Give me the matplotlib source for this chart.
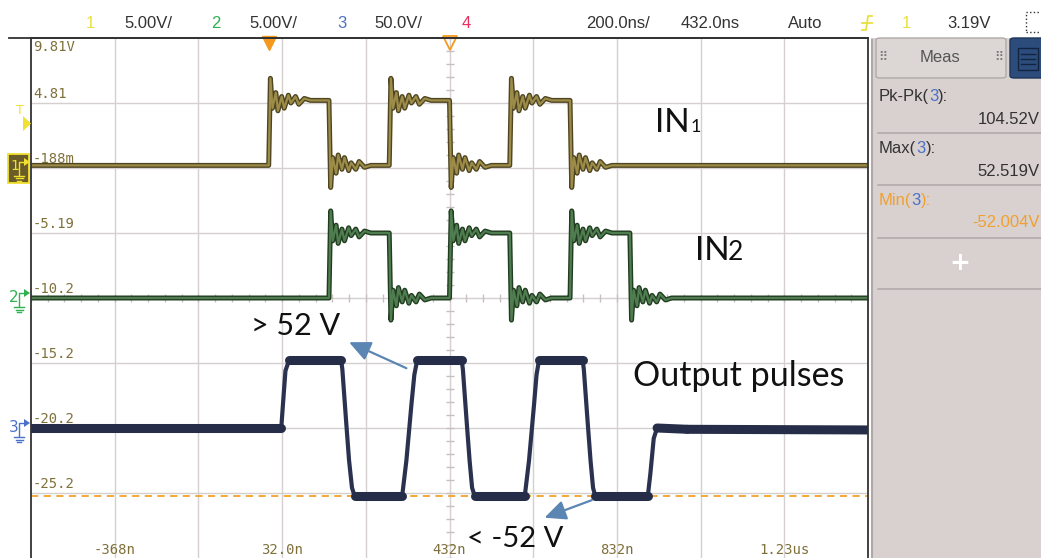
import matplotlib.pyplot as plt
import numpy as np
from matplotlib.patches import Rectangle, FancyBboxPatch, Polygon
from matplotlib.lines import Line2D

# ---- scope settings ----
t_start, t_end = -568, 1432          # 200 ns/div, 10 div, centre 432 ns
t_grid = np.arange(-368, 1433, 200)
t_label_pos = [-368, 32, 432, 832, 1232]
t_labels = ['-368n', '32.0n', '432n', '832n', '1.23us']
v_label_div = [4, 3, 2, 1, 0, -1, -2, -3]
v_labels = ['9.81V', '4.81', '-188m', '-5.19', '-10.2', '-15.2', '-20.2', '-25.2']

# channel 1 (IN1): 5 V/div, ground at +2 div
in1_rise = [0, 288, 576]
in1_fall = [144, 432, 720]
in1_low, in1_high = 0.2, 5.2
# channel 2 (IN2): 5 V/div, ground at 0 div
in2_rise = [144, 432, 720]
in2_fall = [288, 576, 863]
in2_low, in2_high = 0.0, 5.0
# ringing after each input edge (ns after edge, V away from the new level)
ring_dt = [4, 9, 17, 22, 31, 37, 47, 53, 64, 72, 85, 100]
ring_dv = [1.7, -0.6, 0.6, -0.8, 0.3, -0.6, 0.4, -0.2, 0.3, -0.3, 0.15, 0.0]

# channel 3 (output): 50 V/div, ground at -2 div
out_t = [-568, 30, 34, 40, 49, 173, 176, 185, 192, 199, 205, 319, 329, 341, 348, 355,
         461, 464, 473, 480, 486, 492, 612, 622, 634, 640, 646, 750, 753, 762, 769, 775, 780,
         906, 912, 920, 928, 1000, 1432]
out_v = [0, 0, 18, 44, 52.5, 52.5, 45, 5, -25, -46, -52, -52, -25, 18, 41, 52.5,
         52.5, 45, 5, -25, -46, -52, -52, -25, 18, 41, 52.5, 52.5, 45, 5, -25, -46, -52,
         -52, -35, -8, 0, -1, -1.5]
v_min_cursor = -52.0

W, H = 1041, 558


def square(rises, falls, low, high):
    edges = sorted([(t, 1) for t in rises] + [(t, -1) for t in falls])
    ts, vs = [t_start], [low]
    level = low
    for te, s in edges:
        ts.append(te)
        vs.append(level)
        level = high if s > 0 else low
        for dt, dv in zip(ring_dt, ring_dv):
            ts.append(te + dt)
            vs.append(level + s * dv)
    ts.append(t_end)
    vs.append(level)
    return np.array(ts), np.array(vs)


def fx(x):
    return x / W


def fy(y):
    return 1 - y / H


fig = plt.figure(figsize=(W / 100, H / 100), dpi=100)
fig.patch.set_facecolor('white')
ax = fig.add_axes([fx(31), 0, fx(868) - fx(31), fy(38)])
ax.set_xlim(t_start, t_end)
ax.set_ylim(-4, 4)
ax.set_xticks(t_grid)
ax.set_yticks(np.arange(-3, 4))
ax.tick_params(length=0, labelbottom=False, labelleft=False)
ax.grid(True, color='#d6cfcf', lw=1)
for s in ['left', 'top', 'right']:
    ax.spines[s].set_color('#333333')
    ax.spines[s].set_linewidth(1.3)
ax.spines['bottom'].set_visible(False)

# fine ticks on the centre lines
ax.plot(np.full(41, 432), np.linspace(-4, 4, 41), ls='none', marker='_', ms=6, color='#c8c0c0')
ax.plot(np.arange(t_start, t_end + 1, 40), np.zeros(51), ls='none', marker='|', ms=6, color='#c8c0c0')

# scale labels
mono = 'DejaVu Sans Mono'
lab_col = '#7f703a'
for d, lab in zip(v_label_div, v_labels):
    if d == 4:
        ax.text(t_start + 5, 3.97, lab, ha='left', va='top', family=mono, size=10, color=lab_col)
    else:
        ax.text(t_start + 5, d + 0.03, lab, ha='left', va='bottom', family=mono, size=10, color=lab_col)
for t, lab in zip(t_label_pos, t_labels):
    ax.text(t, -3.98, lab, ha='center', va='bottom', family=mono, size=10, color=lab_col)

# min cursor
ax.axhline(v_min_cursor / 50 - 2, color='#f2a329', lw=1.3, ls=(0, (4, 3)))

# traces
t1, v1 = square(in1_rise, in1_fall, in1_low, in1_high)
t2, v2 = square(in2_rise, in2_fall, in2_low, in2_high)
ax.plot(t1, v1 / 5 + 2, color='#4e4522', lw=3.6)
ax.plot(t1, v1 / 5 + 2, color='#9d8c48', lw=1.6)
ax.plot(t2, v2 / 5, color='#213c21', lw=3.6)
ax.plot(t2, v2 / 5, color='#4f7d4f', lw=1.6)
ot, ov = np.array(out_t), np.array(out_v)
ax.plot(ot, ov / 50 - 2, color='#2a3250', lw=3.0)
# flat tops and bottoms show up thicker on the screen
for i in range(len(ot) - 1):
    if abs(ov[i + 1] - ov[i]) < 3:
        ax.plot(ot[i:i + 2], ov[i:i + 2] / 50 - 2, color='#262d48', lw=6.5, solid_capstyle='round')

# trigger position / reference markers on top
ax.plot([0], [3.93], marker='v', ms=10, color='#f39a1e', clip_on=False)
ax.plot([432], [3.93], marker='v', ms=10, mfc='none', mec='#f39a1e', mew=1.3, clip_on=False)

# annotations
big = 'Lato'
ax.text(923, 2.55, 'IN', size=24, family=big, va='baseline', color='#111111')
ax.text(1007, 2.55, '1', size=13, family=big, va='baseline', color='#111111')
ax.text(1019, 0.585, 'IN', size=24, family=big, va='baseline', color='#111111')
ax.text(1098, 0.585, '2', size=19, family=big, va='baseline', color='#111111')
ax.text(870, -1.35, 'Output pulses', size=24.5, family=big, va='baseline', color='#111111')
ax.text(-42, -0.57, '> 52 V', size=22, family=big, va='baseline', color='#111111')
ax.text(473, -3.83, '< -52 V', size=21, family=big, va='baseline', color='#111111')
arrow = dict(arrowstyle='-|>,head_length=1.3,head_width=0.6', color='#5b86b4', lw=1.6,
             shrinkA=0, shrinkB=0)
ax.annotate('', xy=(192, -0.68), xytext=(329, -1.08), arrowprops=arrow)
ax.annotate('', xy=(659, -3.38), xytext=(772, -3.11), arrowprops=arrow)

# ---- screen furniture ----
fig.add_artist(Line2D([fx(9), fx(868)], [fy(38), fy(38)], color='#333333', lw=1.3))

top = [(86, '1', '#e8e040'), (124, '5.00V/', '#333333'), (211, '2', '#30b050'),
       (249, '5.00V/', '#333333'), (337, '3', '#5070c0'), (374, '50.0V/', '#333333'),
       (462, '4', '#e83060'), (586, '200.0ns/', '#333333'), (681, '432.0ns', '#333333'),
       (788, 'Auto', '#333333'), (902, '1', '#e8e040'), (947, '3.19V', '#333333')]
for x, s, c in top:
    fig.text(fx(x), fy(23), s, ha='left', va='center', size=12, color=c, family='Liberation Sans')
# trigger edge icon
fig.add_artist(Line2D([fx(862), fx(866), fx(868), fx(872)], [fy(30), fy(30), fy(16), fy(16)],
                      color='#e8e040', lw=1.3))
fig.add_artist(Line2D([fx(862), fx(872)], [fy(23), fy(23)], color='#e8e040', lw=1.3))
fig.add_artist(Rectangle((fx(1026), fy(32)), fx(20), 20 / H, fill=False, ec='#333333', lw=1, ls=':'))

# right panel
fig.add_artist(Rectangle((fx(871), 0), fx(170), fy(38), fc='#d9d1cf', ec='none'))
fig.add_artist(Line2D([fx(872), fx(872)], [0, fy(40)], color='#b0a8a8', lw=1.5))
fig.add_artist(FancyBboxPatch((fx(876), fy(78)), fx(130), 40 / H, boxstyle='round,pad=0,rounding_size=0.004',
                              fc='#dcd6d4', ec='#b0a9a9', lw=1))
fig.add_artist(FancyBboxPatch((fx(1010), fy(78)), fx(40), 40 / H, boxstyle='round,pad=0,rounding_size=0.004',
                              fc='#2c4c7c', ec='#1e3558', lw=1))
fig.add_artist(Rectangle((fx(1018), fy(70)), fx(20), 22 / H, fill=False, ec='#12243f', lw=1))
for yy in [54, 59, 64]:
    fig.add_artist(Line2D([fx(1021), fx(1035)], [fy(yy), fy(yy)], color='#12243f', lw=1))
fig.text(fx(940), fy(57), 'Meas', ha='center', va='center', size=12, color='#555555', family='Liberation Sans')
fig.text(fx(878), fy(57), '⠿', ha='left', va='center', size=9, color='#777777', family='DejaVu Sans')
fig.text(fx(994), fy(57), '⠿', ha='left', va='center', size=9, color='#777777', family='DejaVu Sans')

meas = [('Pk-Pk(', ')', ':', 96, '104.52V', 119, '#333333'),
        ('Max(', ')', ':', 148, '52.519V', 171, '#333333'),
        ('Min(', ')', ':', 200, '-52.004V', 223, '#f0a030')]
fig.canvas.draw()
for name, close, colon, y, val, yv, c in meas:
    t = fig.text(fx(879), fy(y), name, ha='left', va='center', size=12, color=c, family='Liberation Sans')
    bb = t.get_window_extent(renderer=fig.canvas.get_renderer())
    t2_ = fig.text(bb.x1 / W, fy(y), '3', ha='left', va='center', size=12, color='#4a70c8',
                   family='Liberation Sans')
    bb2 = t2_.get_window_extent(renderer=fig.canvas.get_renderer())
    fig.text(bb2.x1 / W, fy(y), close + colon, ha='left', va='center', size=12, color=c,
             family='Liberation Sans')
    fig.text(fx(1040), fy(yv), val, ha='right', va='center', size=12, color=c, family='Liberation Sans')
for y in [133, 185, 238, 289]:
    fig.add_artist(Line2D([fx(878), 1], [fy(y), fy(y)], color='#b3abab', lw=1.2))
fig.text(fx(960), fy(263), '+', ha='center', va='center', size=18, weight='bold', color='white',
         family='DejaVu Sans')

# channel markers in the left margin
fig.add_artist(Rectangle((fx(8), fy(183)), fx(21), 29 / H, fc='#6a5c28', ec='#f0e030', lw=1.3))
fig.text(fx(10), fy(166), '1', ha='left', va='center', size=10, color='#f0e030', family='DejaVu Sans')
fig.text(fx(9), fy(297), '2', ha='left', va='center', size=11, color='#30b050', family='DejaVu Sans')
fig.text(fx(9), fy(427), '3', ha='left', va='center', size=11, color='#4a70c8', family='DejaVu Sans')
for y0, c in [(166, '#f0e030'), (297, '#30b050'), (427, '#4a70c8')]:
    fig.add_artist(Line2D([fx(19), fx(19), fx(24)], [fy(y0 + 9), fy(y0 - 4), fy(y0 - 4)], color=c, lw=1))
    fig.add_artist(Polygon([[fx(24), fy(y0 - 8)], [fx(24), fy(y0)], [fx(30), fy(y0 - 4)]],
                           closed=True, fc=c, ec='none'))
    for i, half in enumerate([5, 3.5, 2]):
        fig.add_artist(Line2D([fx(19 - half), fx(19 + half)], [fy(y0 + 10 + 2.5 * i)] * 2, color=c, lw=1))
# trigger level marker
fig.text(fx(20), fy(110), 'T', ha='center', va='center', size=9, color='#f0e030', family='DejaVu Sans')
fig.add_artist(Polygon([[fx(23), fy(116)], [fx(23), fy(131)], [fx(31), fy(123.5)]],
                       closed=True, fc='#f0e030', ec='none'))

fig.savefig('out.png', dpi=100)
